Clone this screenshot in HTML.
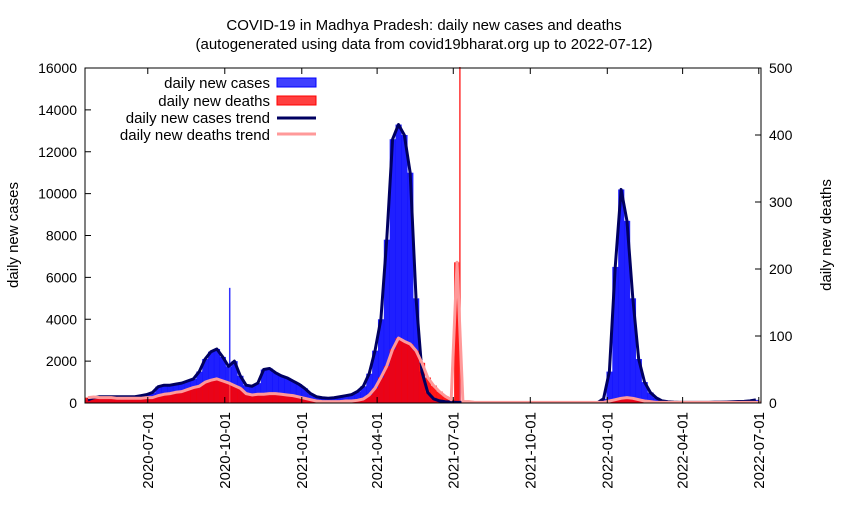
<!DOCTYPE html>
<html><head><meta charset="utf-8"><style>
body{margin:0;background:#fff;}
svg text{font-family:"Liberation Sans",sans-serif;font-size:15px;fill:#000;}
</style></head><body>
<svg id="chart" width="850" height="500" xmlns="http://www.w3.org/2000/svg">
<text x="424" y="30" text-anchor="middle">COVID-19 in Madhya Pradesh: daily new cases and deaths</text>
<text x="424" y="49" text-anchor="middle">(autogenerated using data from covid19bharat.org up to 2022-07-12)</text>
<g id="marks"></g>
<rect x="85" y="68" width="676" height="335" fill="none" stroke="#000" stroke-width="1"/>
<g id="axes"></g>
<text transform="translate(18,235) rotate(-90)" text-anchor="middle">daily new cases</text>
<text transform="translate(831,235) rotate(-90)" text-anchor="middle">daily new deaths</text>
<g>
<text x="270" y="88" text-anchor="end">daily new cases</text>
<rect x="277" y="78" width="39" height="9" fill="rgba(0,0,255,0.75)" stroke="#0000ff"/>
<text x="270" y="106" text-anchor="end">daily new deaths</text>
<rect x="277" y="96" width="39" height="9" fill="rgba(255,0,0,0.75)" stroke="#ff0000"/>
<text x="270" y="123" text-anchor="end">daily new cases trend</text>
<line x1="277" y1="118" x2="316" y2="118" stroke="#000060" stroke-width="3"/>
<text x="270" y="140" text-anchor="end">daily new deaths trend</text>
<line x1="277" y1="134" x2="316" y2="134" stroke="#ff9999" stroke-width="3"/>
</g>
</svg>
<script>
const startDate = "2020-04-17";
const cases = [150,250,300,300,300,300,300,300,300,350,400,500,780,850,850,900,950,1050,1150,1500,2100,2450,2580,2200,1750,2000,1300,850,800,950,1600,1650,1450,1300,1200,1050,900,700,450,300,250,230,250,300,350,400,550,800,1400,2500,4000,7800,12600,13300,12800,11000,5000,1500,500,200,100,60,40,30,30,30,25,25,20,20,20,20,20,15,15,15,15,15,15,15,15,15,15,15,15,15,20,20,200,1500,6500,10200,8700,5000,2100,1000,500,250,100,60,40,30,30,30,30,30,30,40,40,50,60,70,80,100,150];
const deaths = [8,9,8,8,8,7,7,7,7,7,8,8,11,13,14,16,17,20,23,25,31,34,36,33,30,26,22,14,12,13,13,14,14,13,12,11,9,7,5,3,2,2,2,2,3,3,4,6,12,22,38,55,80,97,92,88,78,60,38,26,17,10,5,210,2,2,1,1,1,1,1,1,1,1,1,1,1,1,1,1,1,1,1,1,1,1,1,1,1,3,5,7,8,7,5,3,2,1,1,1,1,1,1,1,1,1,1,1,1,1,1,1,1,1,1,1];
const spikeDays = ["2020-10-06","2021-07-08"];
const spikeCases = [5500,1400];
const spikeDeaths = [30,520];
const xTickLabels = ["2020-07-01","2020-10-01","2021-01-01","2021-04-01","2021-07-01","2021-10-01","2022-01-01","2022-04-01","2022-07-01"];
const yTicks = [0,2000,4000,6000,8000,10000,12000,14000,16000];
const y2Ticks = [0,100,200,300,400,500];

const NS="http://www.w3.org/2000/svg";
const L=85,R=761,T=68,B=403;
const t0=Date.parse(startDate), pxDay=0.837;
function dayOf(s){return (Date.parse(s)-t0)/86400000;}
function xD(d){return L+d*pxDay;}
function yC(v){return B-v/16000*(B-T);}
function yD(v){return B-v/500*(B-T);}
const W=7*pxDay;
const marks=document.getElementById('marks'), axes=document.getElementById('axes');
function mk(tag,at,parent){const e=document.createElementNS(NS,tag);for(const k in at)e.setAttribute(k,at[k]);parent.appendChild(e);return e;}
const clip=mk('clipPath',{id:'cp'},marks);mk('rect',{x:L,y:T-1,width:R-L,height:B-T+1},clip);
const g=mk('g',{'clip-path':'url(#cp)'},marks);
cases.forEach((v,i)=>{const y=yC(v);
 const r=mk('rect',{x:xD(i*7),y:y,width:W+0.3,height:B-y,fill:'rgba(0,0,255,0.88)'},g);
 
 });
deaths.forEach((v,i)=>{const y=yD(v);
 const r=mk('rect',{x:xD(i*7),y:y,width:W+0.3,height:B-y,fill:'rgba(255,0,0,0.9)'},g);
 
 });
spikeDays.forEach((d,i)=>{const x=xD(dayOf(d));
 const a=mk('rect',{x:x,y:yC(spikeCases[i]),width:1.5,height:B-yC(spikeCases[i]),fill:'#3333ff'},g);
 
 
 const b=mk('rect',{x:x,y:yD(spikeDeaths[i]),width:1.5,height:B-yD(spikeDeaths[i]),fill:'#ff3333'},g);
 
 });
const pc=mk('polyline',{points:cases.map((v,i)=>xD(i*7+3.5)+','+yC(v)).join(' '),fill:'none',stroke:'#000060','stroke-width':3,'stroke-linejoin':'round'},g);


const pd=mk('polyline',{points:deaths.map((v,i)=>xD(i*7+3.5)+','+yD(v)).join(' '),fill:'none',stroke:'#ff9999','stroke-width':3,'stroke-linejoin':'round'},g);


yTicks.forEach(v=>{const y=yC(v);
 mk('line',{x1:L,y1:y,x2:L+6,y2:y,stroke:'#000'},axes);
 const t=mk('text',{x:L-8,y:y+5,'text-anchor':'end',style:'font-size:14px'},axes);t.textContent=v;
 
 });
y2Ticks.forEach(v=>{const y=yD(v);
 mk('line',{x1:R-6,y1:y,x2:R,y2:y,stroke:'#000'},axes);
 const t=mk('text',{x:R+8,y:y+5,'text-anchor':'start',style:'font-size:14px'},axes);t.textContent=v;
 
 });
xTickLabels.forEach(s=>{const x=xD(dayOf(s));
 mk('line',{x1:x,y1:B,x2:x,y2:B-6,stroke:'#000'},axes);
 mk('line',{x1:x,y1:T,x2:x,y2:T+6,stroke:'#000'},axes);
 const t=mk('text',{transform:`translate(${x+5},${B+9}) rotate(-90)`,'text-anchor':'end'},axes);t.textContent=s;
 
 });
</script>
</body></html>
